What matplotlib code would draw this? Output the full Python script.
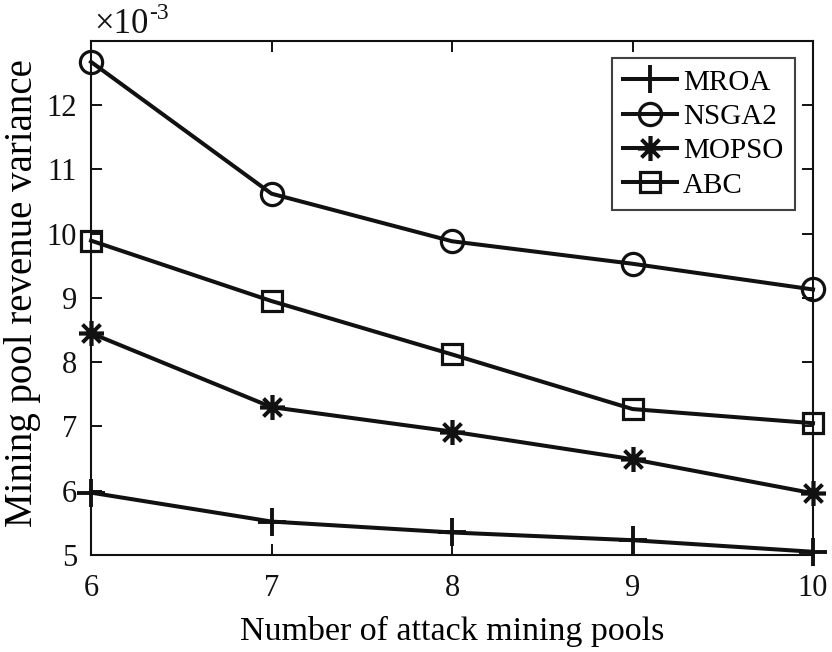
import matplotlib
matplotlib.use("Agg")
import matplotlib.pyplot as plt
from matplotlib.ticker import FuncFormatter

plt.rcParams['font.family'] = ['Liberation Serif', 'DejaVu Serif']

x = [6, 7, 8, 9, 10]
mroa = [5.97e-3, 5.52e-3, 5.35e-3, 5.23e-3, 5.05e-3]
nsga2 = [12.67e-3, 10.62e-3, 9.88e-3, 9.53e-3, 9.13e-3]
mopso = [8.45e-3, 7.30e-3, 6.92e-3, 6.49e-3, 5.96e-3]
abc = [9.89e-3, 8.95e-3, 8.12e-3, 7.27e-3, 7.05e-3]
labels = ['MROA', 'NSGA2', 'MOPSO', 'ABC']
yticks = [5e-3, 6e-3, 7e-3, 8e-3, 9e-3, 10e-3, 11e-3, 12e-3]

fig = plt.figure(figsize=(8.32, 6.52), dpi=100)
ax = fig.add_axes([0.1094, 0.1488, 0.8678, 0.7888])

lw = 2.9
mew = 2.3
c = '#111111'
ax.plot(x, mroa, color=c, lw=lw, marker='+', ms=20, mew=mew + 0.5, label=labels[0], clip_on=False, zorder=3)
ax.plot(x, nsga2, color=c, lw=lw, marker='o', ms=16, mew=mew, mfc='none', label=labels[1], clip_on=False, zorder=3)
ax.plot(x, mopso, color=c, lw=lw, marker=(8, 2, 0), ms=18, mew=mew + 0.3, label=labels[2], clip_on=False, zorder=3)
ax.plot(x, abc, color=c, lw=lw, marker='s', ms=14, mew=mew, mfc='none', label=labels[3], clip_on=False, zorder=3)

ax.set_xlim(6, 10)
ax.set_ylim(5e-3, 13e-3)
ax.set_xticks(x)
ax.set_yticks(yticks)
ax.yaxis.set_major_formatter(FuncFormatter(lambda v, p: f"{v*1e3:g}"))
ax.tick_params(direction='in', length=8, width=1.4, top=True, right=True,
               labelsize=22, colors=c)
ax.tick_params(axis='x', pad=14)
ax.tick_params(axis='y', pad=10)
for s in ax.spines.values():
    s.set_linewidth(1.5)
    s.set_color(c)

ax.set_xlabel('Number of attack mining pools', fontsize=24.5, labelpad=9)
ax.set_ylabel('Mining pool revenue variance', fontsize=28)
ax.yaxis.set_label_coords(-0.069, 0.51)
t1 = ax.text(0.005, 1.015, '×10', transform=ax.transAxes,
             fontsize=25, ha='left', va='baseline', color=c)
ax.annotate('-3', xy=(1.0, 0.52), xycoords=t1, fontsize=17,
            ha='left', va='bottom', color=c)

leg = ax.legend(loc='upper right', bbox_to_anchor=(0.9745, 0.966), fontsize=21,
                frameon=True, fancybox=False, edgecolor=c,
                handlelength=1.85, handletextpad=0.2, borderpad=0.38,
                labelspacing=0.27, borderaxespad=0)
leg.get_frame().set_linewidth(1.5)

fig.savefig('out.png', dpi=100)
